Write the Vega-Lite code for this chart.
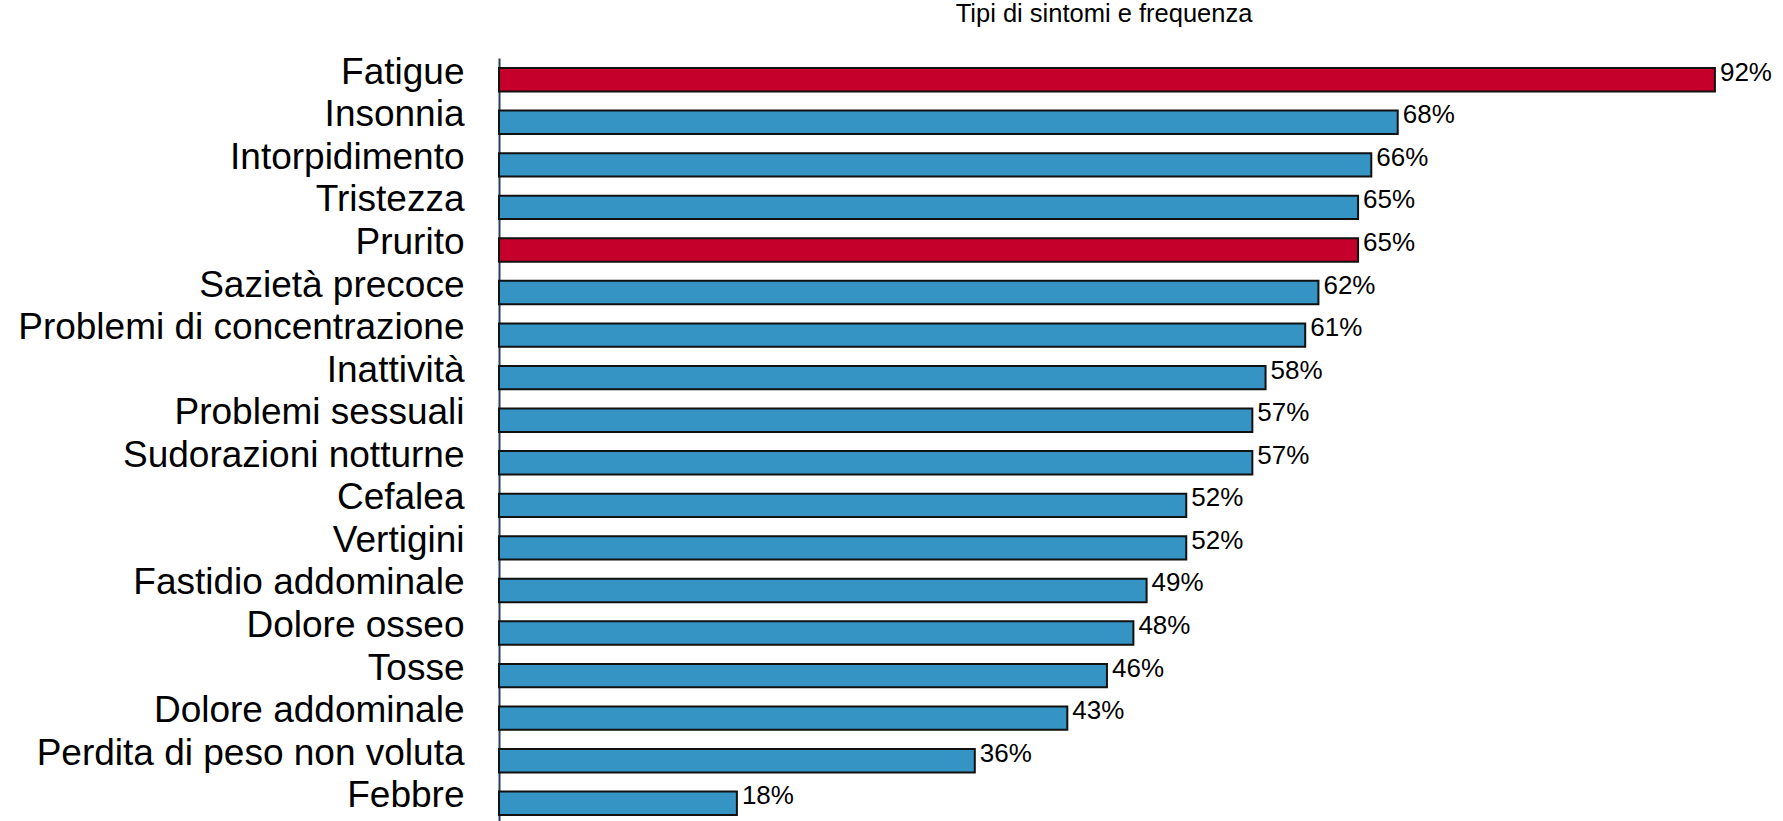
{
  "$schema": "https://vega.github.io/schema/vega-lite/v6.json",
  "autosize": {"type": "none"},
  "padding": {"left": 499, "top": 58, "right": 2, "bottom": 0},
  "width": 1282,
  "height": 763,
  "background": "white",
  "title": {
    "text": "Tipi di sintomi e frequenza",
    "anchor": "middle",
    "dx": -36,
    "offset": 6,
    "baseline": "alphabetic",
    "font": "Liberation Sans",
    "fontSize": 25.5,
    "fontWeight": "normal",
    "color": "#000000"
  },
  "data": {
    "values": [
      {"sintomo": "Fatigue", "valore": 0.92, "gruppo": "evidenziato"},
      {"sintomo": "Insonnia", "valore": 0.68, "gruppo": "altro"},
      {"sintomo": "Intorpidimento", "valore": 0.66, "gruppo": "altro"},
      {"sintomo": "Tristezza", "valore": 0.65, "gruppo": "altro"},
      {"sintomo": "Prurito", "valore": 0.65, "gruppo": "evidenziato"},
      {"sintomo": "Sazietà precoce", "valore": 0.62, "gruppo": "altro"},
      {"sintomo": "Problemi di concentrazione", "valore": 0.61, "gruppo": "altro"},
      {"sintomo": "Inattività", "valore": 0.58, "gruppo": "altro"},
      {"sintomo": "Problemi sessuali", "valore": 0.57, "gruppo": "altro"},
      {"sintomo": "Sudorazioni notturne", "valore": 0.57, "gruppo": "altro"},
      {"sintomo": "Cefalea", "valore": 0.52, "gruppo": "altro"},
      {"sintomo": "Vertigini", "valore": 0.52, "gruppo": "altro"},
      {"sintomo": "Fastidio addominale", "valore": 0.49, "gruppo": "altro"},
      {"sintomo": "Dolore osseo", "valore": 0.48, "gruppo": "altro"},
      {"sintomo": "Tosse", "valore": 0.46, "gruppo": "altro"},
      {"sintomo": "Dolore addominale", "valore": 0.43, "gruppo": "altro"},
      {"sintomo": "Perdita di peso non voluta", "valore": 0.36, "gruppo": "altro"},
      {"sintomo": "Febbre", "valore": 0.18, "gruppo": "altro"}
    ]
  },
  "config": {"view": {"stroke": null}},
  "encoding": {
    "y": {
      "field": "sintomo",
      "type": "nominal",
      "sort": null,
      "title": null,
      "scale": {"paddingInner": 0.45, "paddingOuter": 0.235, "range": [0, 767]},
      "axis": {
        "ticks": false,
        "domainColor": "#2b3f5c",
        "domainWidth": 2,
        "labelFont": "Liberation Sans",
        "labelFontSize": 37,
        "labelColor": "#000000",
        "labelPadding": 35,
        "labelOffset": -7,
        "labelLimit": 0
      }
    },
    "x": {
      "field": "valore",
      "type": "quantitative",
      "scale": {"domain": [0, 0.97]},
      "axis": null
    }
  },
  "layer": [
    {
      "mark": {"type": "bar", "stroke": "#111111", "strokeWidth": 2},
      "encoding": {
        "color": {
          "field": "gruppo",
          "type": "nominal",
          "scale": {"domain": ["evidenziato", "altro"], "range": ["#c4002b", "#3594c3"]},
          "legend": null
        }
      }
    },
    {
      "mark": {
        "type": "text",
        "align": "left",
        "baseline": "alphabetic",
        "dx": 5,
        "dy": 1,
        "font": "Liberation Sans",
        "fontSize": 26,
        "color": "#000000"
      },
      "encoding": {
        "text": {"field": "valore", "type": "quantitative", "format": ".0%"}
      }
    }
  ]
}
